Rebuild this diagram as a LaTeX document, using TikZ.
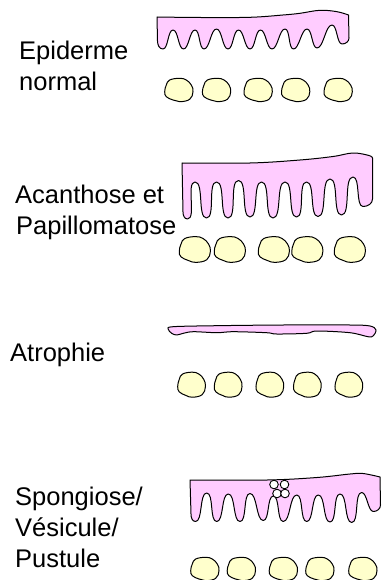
\documentclass[tikz,border=0pt]{standalone}
\usepackage{fontspec}
\setmainfont{Liberation Sans}
\begin{document}
\begin{tikzpicture}[x=1pt,y=-1pt,
  epi/.style={draw=black,line width=1pt,fill=epipink,line join=round},
  wave/.style={out=0,in=180,looseness=0.62},
  cellbody/.style={draw=black,line width=1pt,fill=cellyellow},
  vesicle/.style={draw=black,line width=0.9pt,fill=white},
  label/.style={anchor=base west,inner sep=0pt,font=\fontsize{25.5}{31}\selectfont},
  cellpic/.pic={\draw[cellbody] plot[smooth cycle,tension=0.7] coordinates
     {(-9.3,-10) (0.7,-11.7) (7.3,-10) (12.3,-5) (14,1.7) (10.7,9.3)
      (0.7,11.7) (-6,10) (-12.7,6.7) (-14.3,1.7) (-12.7,-5)};}
]
\definecolor{epipink}{HTML}{FFCCFF}
\definecolor{cellyellow}{HTML}{FFFFCC}
\useasboundingbox (0,0) rectangle (390,580);

% ---------- labels ----------
\node[label] (t1a) at (19,59.3) {Epiderme};
\node[label] (t1b) at (19,90.5) {normal};
\node[label] (t2a) at (15,203.3) {Acanthose et};
\node[label] (t2b) at (16,234) {Papillomatose};
\node[label] (t3a) at (10,361.7) {Atrophie};
\node[label] (t4a) at (15,505.5) {Spongiose/};
\node[label] (t4b) at (15,536.7) {Vésicule/};
\node[label] (t4c) at (15,567.5) {Pustule};

% ---------- normal epidermis ----------
\path[epi] (157,17) -- (157.5,41) to[out=-90,in=180] (163,49)
  \foreach \x/\y in {173/30,183.5/49,195/30,204/49,216.5/29,228/49,
                  238.5/30,250/49,260.5/30,272/49,285/29,293.5/49,
                  307/29,317/48,332/25,342/44} { to[wave] (\x,\y) }
  to[out=0,in=-90] (349,38) -- (348.5,15)
  -- plot[smooth,tension=0.6] coordinates {(348.5,15) (337,11.7) (320,10.3)
        (300,13.3) (283,15) (250,17.3) (200,17.5) (157,17)} -- cycle;
\foreach \cx in {179,216.7,258.3,295.8,338.3}
  \pic at (\cx,90) {cellpic};

% ---------- acanthosis / papillomatosis ----------
\path[epi] (182,163) -- (183,212) to[out=-90,in=180] (187.5,219)
  \foreach \x/\y in {195/182,206.5/218,216.5/182,228/218,238.5/180.5,
                  250/217,261.5/182,273/218,285/182,296.5/217,
                  306.5/182,318/216.5,330/179,341.5/215,353/177,
                  363/206.5} { to[wave] (\x,\y) }
  to[out=0,in=-90] (372.5,199) -- (372.5,158)
  -- plot[smooth,tension=0.6] coordinates {(372.5,158) (369,155.5) (353,153)
        (333,156.5) (300,160) (250,163) (182,163)} -- cycle;
\foreach \cx in {195,230,274,307.5,350}
  \pic[scale=1.1] at (\cx,249.5) {cellpic};

% ---------- atrophy ----------
\path[epi] plot[smooth cycle,tension=0.55] coordinates {
   (168.3,329.3) (173,326.7) (216.7,325.7) (283,325) (350,325) (370,326)
   (376,330) (373,336) (368,336.7) (350,332.7) (316.7,331) (306.7,333.3)
   (276.7,334) (266.7,332.7) (233.3,331.7) (216.7,332.7) (193.3,331.7)
   (183.3,333.3) (176.7,335) (171.7,333.3)};
\foreach \cx in {191.7,228.3,270,307.5,349}
  \pic[xscale=0.98,yscale=1.07] at (\cx,384.7) {cellpic};

% ---------- spongiosis / vesicle / pustule ----------
\path[epi] (190,480) -- (191,514) to[out=-90,in=180] (195.5,521.5)
  \foreach \x/\y in {206.7/493,216.7/521.5,228.3/494,240/521.5,250/493.5,
                  263.3/520.5,273.3/496,283.3/521.5,296.7/495,306.7/521.5,
                  318.3/495,330/522,340/494,351.7/522.5,361.7/492.5,
                  373.3/511.5} { to[wave] (\x,\y) }
  to[out=0,in=-90] (380.5,505) -- (380,477)
  -- plot[smooth,tension=0.6] coordinates {(380,477) (363,473.5) (350,474)
        (317,477.5) (267,480) (190,480)} -- cycle;
\node[vesicle,circle,minimum size=8.6pt,inner sep=0pt] (v1) at (274,484.5) {};
\node[vesicle,circle,minimum size=8.6pt,inner sep=0pt] (v2) at (284.5,484.5) {};
\node[vesicle,circle,minimum size=8.6pt,inner sep=0pt] (v3) at (277,493.5) {};
\node[vesicle,circle,minimum size=8.6pt,inner sep=0pt] (v4) at (285,493.5) {};
\foreach \cx in {205,241.5,283.5,320,363}
  \pic at (\cx,569) {cellpic};
\end{tikzpicture}
\end{document}
